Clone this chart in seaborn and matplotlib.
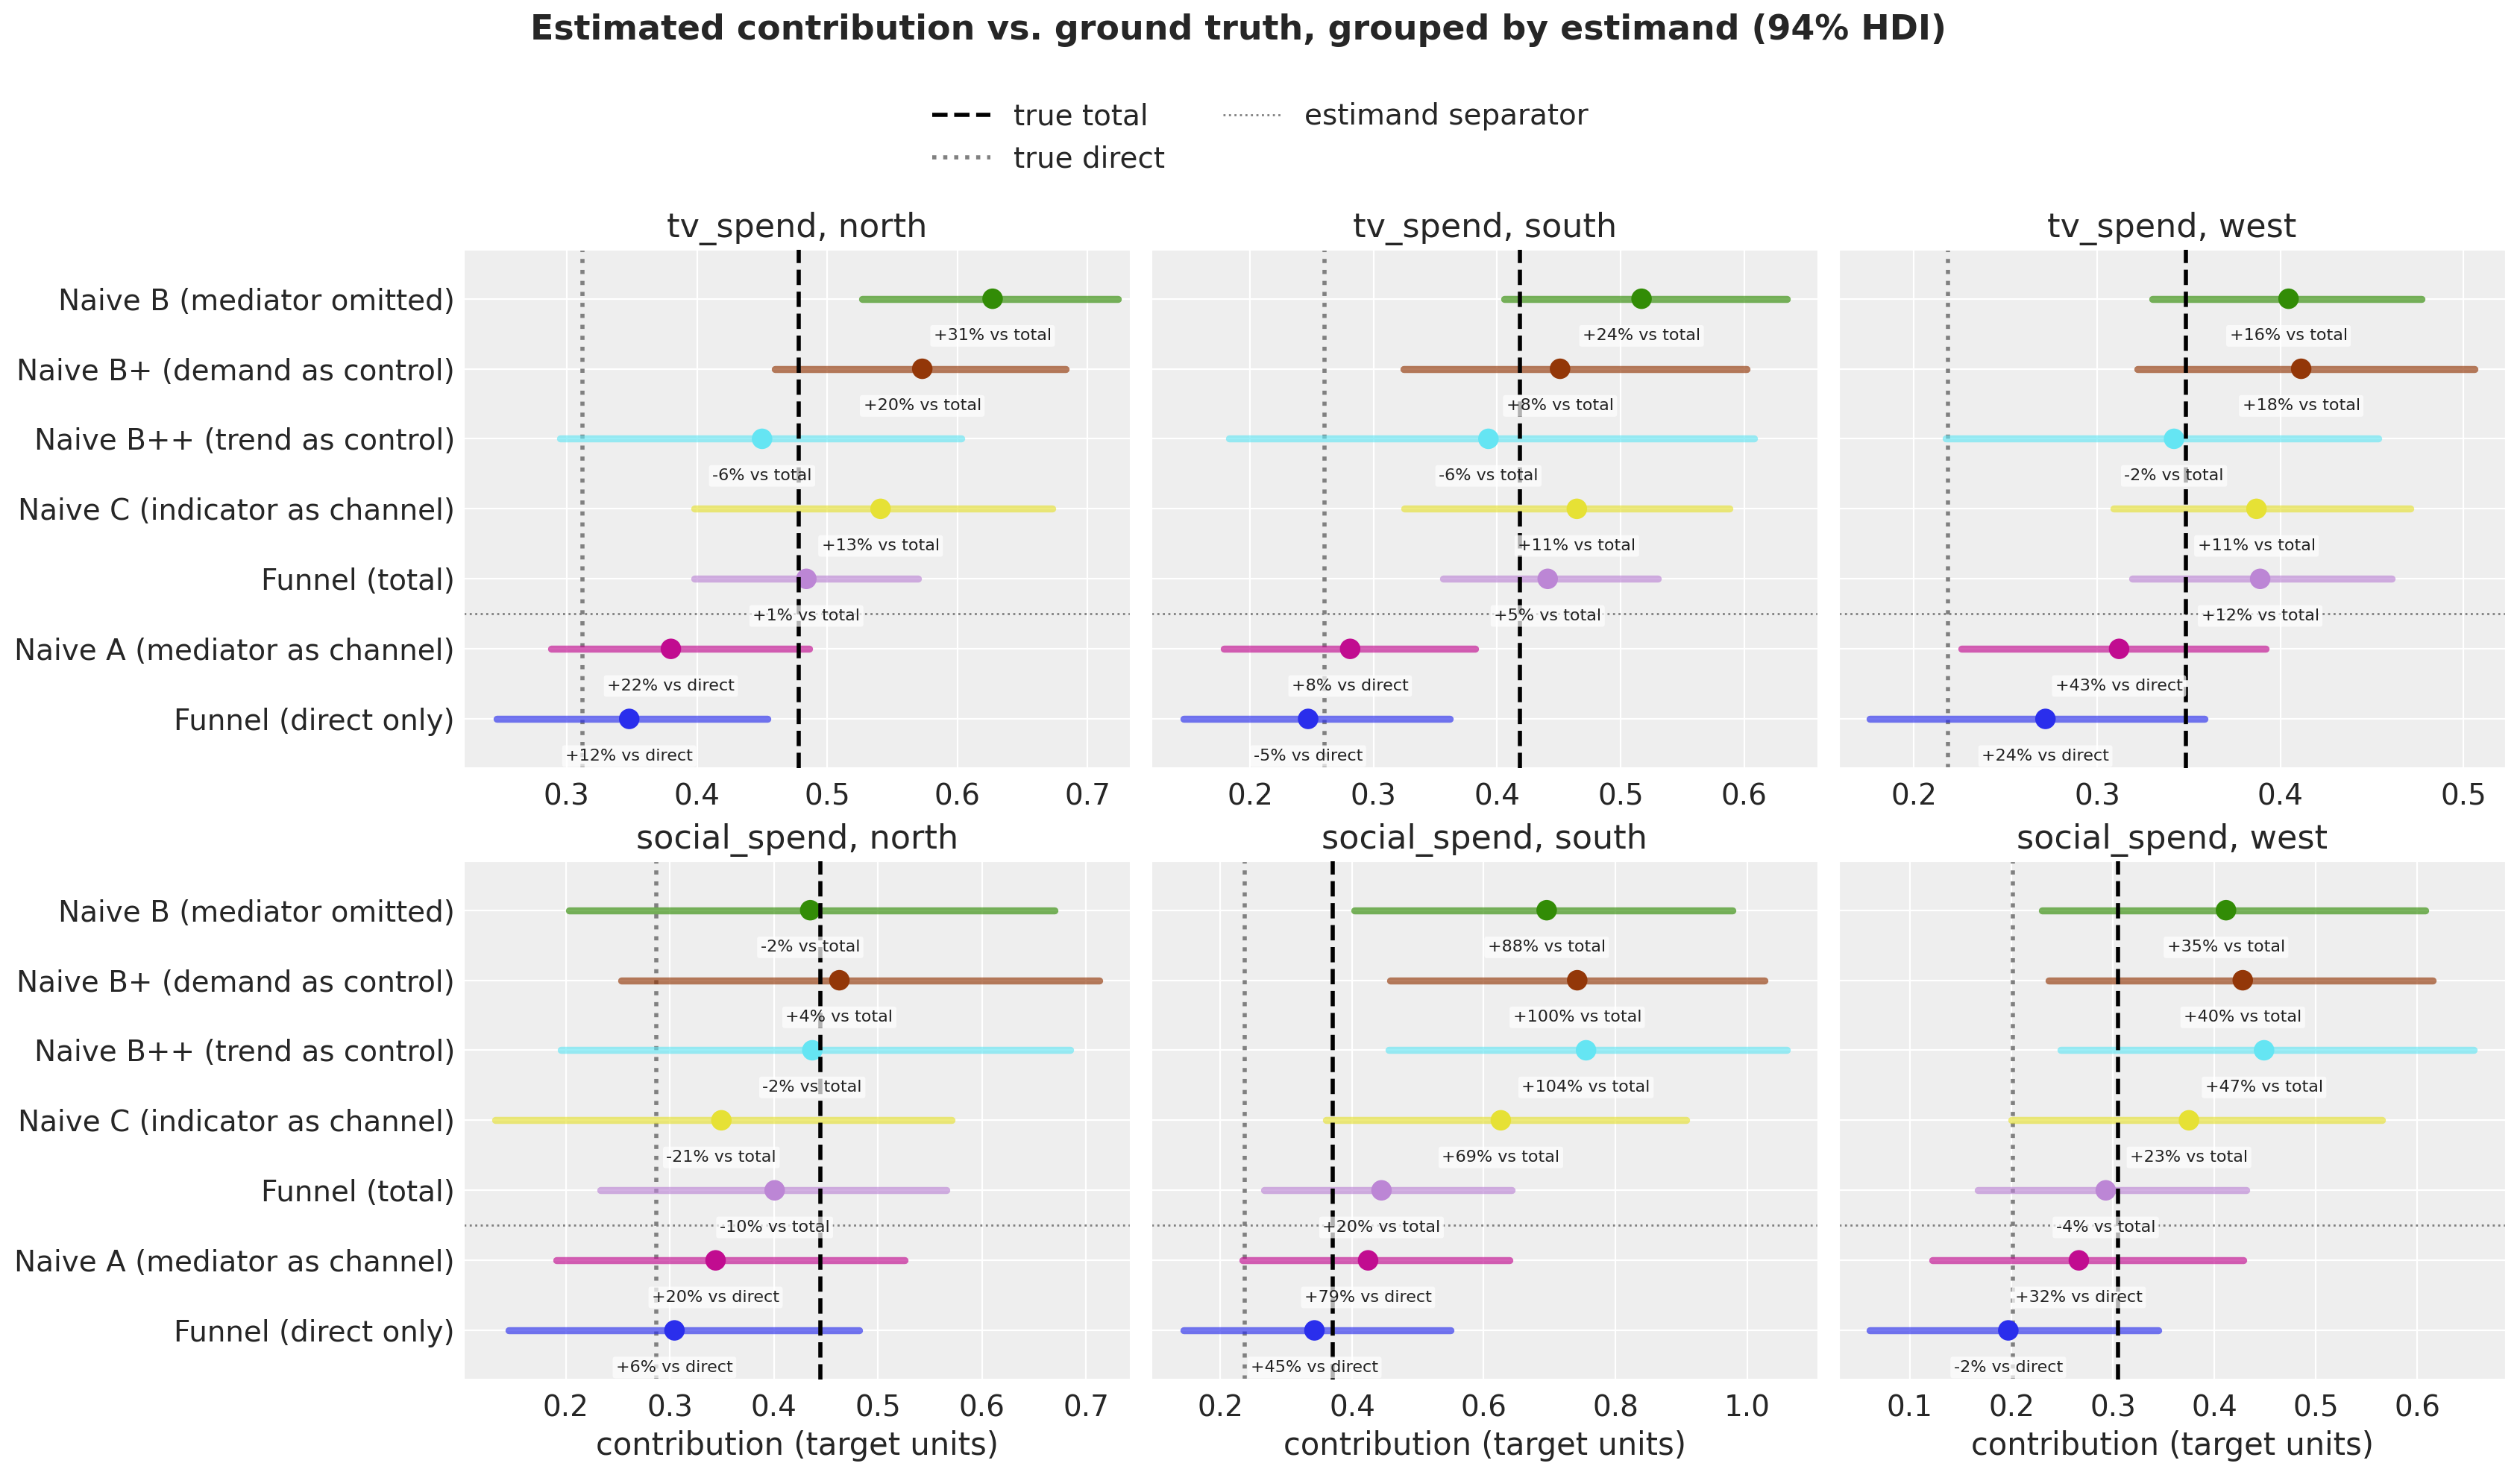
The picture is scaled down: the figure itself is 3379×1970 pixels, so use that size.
import matplotlib
matplotlib.use("Agg")
import matplotlib.pyplot as plt
from matplotlib.lines import Line2D
from matplotlib.ticker import MultipleLocator
import numpy as np
import pandas as pd
import seaborn as sns

# models, top to bottom
models = [
    "Naive B (mediator omitted)",
    "Naive B+ (demand as control)",
    "Naive B++ (trend as control)",
    "Naive C (indicator as channel)",
    "Funnel (total)",
    "Naive A (mediator as channel)",
    "Funnel (direct only)",
]
estimand = ["total", "total", "total", "total", "total", "direct", "direct"]
model_colors = ["#328c06", "#933708", "#65e5f3", "#e6e135", "#bc86d5", "#c10c90", "#2a2eec"]

panel_titles = ["tv_spend, north", "tv_spend, south", "tv_spend, west",
                "social_spend, north", "social_spend, south", "social_spend, west"]

true_total = [0.478, 0.4186, 0.3484, 0.4446, 0.3706, 0.305]
true_direct = [0.312, 0.260, 0.2184, 0.2868, 0.2367, 0.2018]

# posterior means and 94% HDI bounds per panel
tv_north_mean = [0.627, 0.573, 0.450, 0.541, 0.484, 0.380, 0.348]
tv_north_lo = [0.527, 0.460, 0.295, 0.398, 0.398, 0.288, 0.246]
tv_north_hi = [0.723, 0.683, 0.603, 0.673, 0.570, 0.486, 0.454]

tv_south_mean = [0.517, 0.451, 0.393, 0.4646, 0.441, 0.281, 0.247]
tv_south_lo = [0.406, 0.324, 0.183, 0.325, 0.356, 0.179, 0.146]
tv_south_hi = [0.635, 0.602, 0.608, 0.588, 0.530, 0.382, 0.362]

tv_west_mean = [0.4045, 0.4114, 0.342, 0.387, 0.389, 0.312, 0.2718]
tv_west_lo = [0.330, 0.322, 0.2175, 0.309, 0.319, 0.226, 0.1758]
tv_west_hi = [0.477, 0.506, 0.4535, 0.471, 0.461, 0.392, 0.3587]

social_north_mean = [0.435, 0.463, 0.437, 0.3496, 0.4008, 0.344, 0.3045]
social_north_lo = [0.2034, 0.253, 0.195, 0.1325, 0.2335, 0.191, 0.1454]
social_north_hi = [0.670, 0.713, 0.685, 0.571, 0.566, 0.526, 0.482]

social_south_mean = [0.6956, 0.742, 0.7554, 0.626, 0.4447, 0.4243, 0.3428]
social_south_lo = [0.404, 0.458, 0.456, 0.360, 0.2666, 0.234, 0.144]
social_south_hi = [0.978, 1.027, 1.061, 0.908, 0.643, 0.639, 0.550]

social_west_mean = [0.4115, 0.428, 0.449, 0.375, 0.293, 0.2665, 0.197]
social_west_lo = [0.230, 0.2368, 0.2484, 0.200, 0.1673, 0.1224, 0.0603]
social_west_hi = [0.608, 0.6155, 0.6557, 0.5655, 0.4318, 0.4287, 0.345]

means = [tv_north_mean, tv_south_mean, tv_west_mean, social_north_mean, social_south_mean, social_west_mean]
lows = [tv_north_lo, tv_south_lo, tv_west_lo, social_north_lo, social_south_lo, social_west_lo]
highs = [tv_north_hi, tv_south_hi, tv_west_hi, social_north_hi, social_south_hi, social_west_hi]

x_limits = [(0.221, 0.733), (0.120, 0.660), (0.159, 0.523),
            (0.102, 0.743), (0.095, 1.108), (0.030, 0.687)]
x_steps = [0.1, 0.1, 0.1, 0.1, 0.2, 0.1]

sns.set_style("darkgrid", {"axes.facecolor": "#eeeeee", "grid.color": "white"})
plt.rcParams["font.family"] = ["DejaVu Sans"]

fig, axes = plt.subplots(2, 3, figsize=(16.9, 9.85), dpi=200, sharey=True)
fig.subplots_adjust(left=0.184, right=0.994, top=0.830, bottom=0.061, wspace=0.031, hspace=0.18)

for k, ax in enumerate(axes.flat):
    df = pd.DataFrame({
        "model": models,
        "row": np.arange(len(models)),
        "mean": means[k],
        "lo": lows[k],
        "hi": highs[k],
        "estimand": estimand,
    })
    for _, r in df.iterrows():
        ax.hlines(r["row"], r["lo"], r["hi"], color=model_colors[r["row"]], lw=3.4,
                  alpha=0.65, capstyle="round", zorder=2)
    sns.scatterplot(data=df, x="mean", y="row", hue="model", palette=model_colors,
                    s=98, linewidth=0, legend=False, ax=ax, zorder=3)

    ax.axvline(true_total[k], color="black", ls="--", lw=2, zorder=4)
    ax.axvline(true_direct[k], color="gray", ls=":", lw=2, zorder=1.5)
    ax.axhline(4.5, color="gray", ls=":", lw=1, zorder=1.5)

    for _, r in df.iterrows():
        ref = true_total[k] if r["estimand"] == "total" else true_direct[k]
        pct = (r["mean"] / ref - 1) * 100
        ax.text(r["mean"], r["row"] + 0.53, f"{pct:+.0f}% vs {r['estimand']}",
                ha="center", va="center", fontsize=8, color="#222222", zorder=5,
                bbox=dict(boxstyle="round,pad=0.2,rounding_size=0.15", fc="white", ec="none", alpha=0.7))

    ax.set_xlim(*x_limits[k])
    ax.xaxis.set_major_locator(MultipleLocator(x_steps[k]))
    ax.set_ylim(len(models) - 0.3, -0.7)
    ax.set_yticks(range(len(models)))
    ax.set_yticklabels(models)
    ax.set_title(panel_titles[k], fontsize=16)
    ax.tick_params(labelsize=14)
    ax.tick_params(axis="y", pad=0.8)
    ax.set_ylabel("")
    if k >= 3:
        ax.set_xlabel("contribution (target units)", fontsize=15)
    else:
        ax.set_xlabel("")

handles = [
    Line2D([], [], color="black", ls="--", lw=2),
    Line2D([], [], color="gray", ls=":", lw=2),
    Line2D([], [], color="gray", ls=":", lw=1),
]
fig.legend(handles, ["true total", "true direct", "estimand separator"],
           loc="upper center", bbox_to_anchor=(0.5, 0.948), ncol=2, frameon=False, fontsize=14)
fig.suptitle("Estimated contribution vs. ground truth, grouped by estimand (94% HDI)",
             fontsize=16.5, fontweight="bold", x=0.4914, y=0.991)

fig.savefig("out.png", dpi=200)
